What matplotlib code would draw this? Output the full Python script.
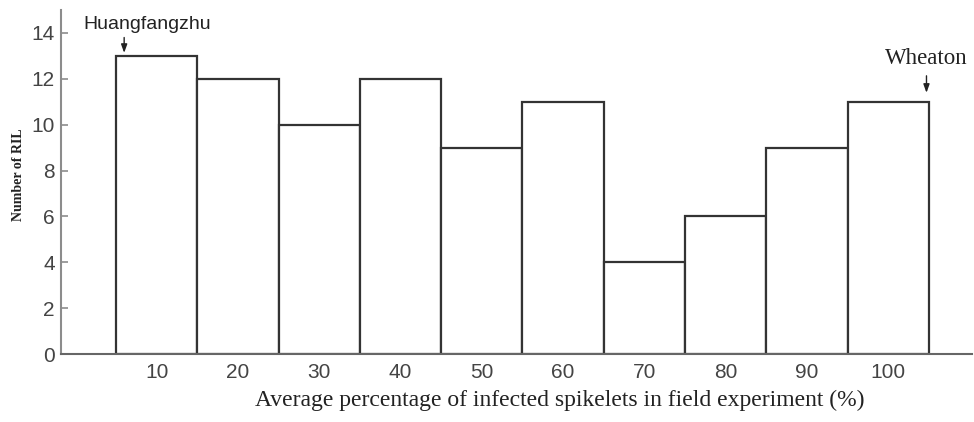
"""
    RIL distribution of infected spikelets
"""
import matplotlib
matplotlib.use("Agg")
import matplotlib.pyplot as plt

# data
percent_bins = [10, 20, 30, 40, 50, 60, 70, 80, 90, 100]
ril_counts = [13, 12, 10, 12, 9, 11, 4, 6, 9, 11]
y_ticks = [0, 2, 4, 6, 8, 10, 12, 14]

SANS = ["Liberation Sans", "DejaVu Sans"]
SERIF = ["Liberation Serif", "DejaVu Serif"]

fig = plt.figure(figsize=(9.74, 4.22), dpi=100)
ax = fig.add_axes([61 / 974, 68 / 422, 911 / 974, 344 / 422])

ax.bar(percent_bins, ril_counts, width=10, color="white",
       edgecolor="#333333", linewidth=1.6, zorder=2)

ax.set_xlim(-1.77, 110.3)
ax.set_ylim(0, 15)

for side in ["top", "right"]:
    ax.spines[side].set_visible(False)
ax.spines["left"].set_color("#8c8c8c")
ax.spines["left"].set_linewidth(1.5)
ax.spines["bottom"].set_color("#666666")
ax.spines["bottom"].set_linewidth(1.5)

ax.set_xticks(percent_bins)
ax.set_yticks(y_ticks)
ax.tick_params(axis="x", length=0, pad=6.5, labelsize=15, labelcolor="#444444")
ax.tick_params(axis="y", direction="in", length=5, width=1.2, color="#8c8c8c",
               pad=4.5, labelsize=15, labelcolor="#444444")
for lab in ax.get_xticklabels() + ax.get_yticklabels():
    lab.set_family(SANS)

ax.set_xlabel("Average percentage of infected spikelets in field experiment (%)",
              family=SERIF, fontsize=17, color="#222222", labelpad=4)
ax.xaxis.set_label_coords(0.548, -0.105)
ax.set_ylabel("Number of RIL", family=SERIF, fontsize=10, fontweight="bold",
              color="#222222")
ax.yaxis.set_label_coords(-0.039, 0.52)

arrow = dict(arrowstyle="-|>,head_length=0.5,head_width=0.18", color="#222222",
             lw=1.0, shrinkA=0, shrinkB=0)
ax.annotate("", xy=(6, 13.13), xytext=(6, 13.8), arrowprops=arrow)
ax.text(8.8, 14.35, "Huangfangzhu", family=SANS, fontsize=14, color="#222222",
        ha="center", va="center")
ax.annotate("", xy=(104.7, 11.39), xytext=(104.7, 12.13), arrowprops=arrow,
            annotation_clip=False)
ax.text(104.7, 12.9, "Wheaton", family=SERIF, fontsize=16.5, color="#222222",
        ha="center", va="center", clip_on=False)

fig.savefig("out.png", dpi=100)
